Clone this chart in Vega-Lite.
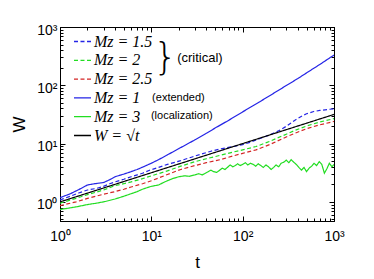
{
  "$schema": "https://vega.github.io/schema/vega-lite/v6.json",
  "width": 274,
  "height": 194,
  "autosize": {"type": "none"},
  "padding": {"left": 60, "top": 27, "right": 40, "bottom": 58},
  "background": "white",
  "config": {
    "view": {"stroke": "black", "strokeWidth": 1},
    "font": "Liberation Sans",
    "axis": {"grid": false, "domainColor": "black", "tickColor": "black", "labelColor": "black", "titleColor": "black", "labelFont": "Liberation Sans", "labelFontSize": 14, "titleFont": "Liberation Sans", "titleFontWeight": "normal", "titleFontSize": 17, "tickCount": 10, "labelOverlap": false, "labelFlush": false}
  },
  "datasets": {
    "lines": [
      {"s": "Mz = 1.5", "t": 1, "W": 1.08}, {"s": "Mz = 1.5", "t": 1.3, "W": 1.25}, {"s": "Mz = 1.5", "t": 1.6, "W": 1.42}, {"s": "Mz = 1.5", "t": 2, "W": 1.6}, {"s": "Mz = 1.5", "t": 2.5, "W": 1.7}, {"s": "Mz = 1.5", "t": 3, "W": 1.85}, {"s": "Mz = 1.5", "t": 3.5, "W": 2.05}, {"s": "Mz = 1.5", "t": 4, "W": 2.2}, {"s": "Mz = 1.5", "t": 5, "W": 2.45}, {"s": "Mz = 1.5", "t": 6, "W": 2.7}, {"s": "Mz = 1.5", "t": 7, "W": 2.9}, {"s": "Mz = 1.5", "t": 8, "W": 3.1}, {"s": "Mz = 1.5", "t": 9.4, "W": 3.45}, {"s": "Mz = 1.5", "t": 12, "W": 3.9}, {"s": "Mz = 1.5", "t": 15, "W": 4.4}, {"s": "Mz = 1.5", "t": 21, "W": 5.1}, {"s": "Mz = 1.5", "t": 28, "W": 5.9}, {"s": "Mz = 1.5", "t": 35, "W": 6.6}, {"s": "Mz = 1.5", "t": 45, "W": 7.4}, {"s": "Mz = 1.5", "t": 57, "W": 8.1}, {"s": "Mz = 1.5", "t": 70, "W": 8.6}, {"s": "Mz = 1.5", "t": 85, "W": 9.1}, {"s": "Mz = 1.5", "t": 100, "W": 9.6}, {"s": "Mz = 1.5", "t": 120, "W": 10.5}, {"s": "Mz = 1.5", "t": 150, "W": 12.0}, {"s": "Mz = 1.5", "t": 200, "W": 14.2}, {"s": "Mz = 1.5", "t": 250, "W": 16.7}, {"s": "Mz = 1.5", "t": 300, "W": 19.8}, {"s": "Mz = 1.5", "t": 350, "W": 23.5}, {"s": "Mz = 1.5", "t": 400, "W": 27}, {"s": "Mz = 1.5", "t": 450, "W": 30}, {"s": "Mz = 1.5", "t": 500, "W": 32.5}, {"s": "Mz = 1.5", "t": 600, "W": 35.5}, {"s": "Mz = 1.5", "t": 700, "W": 37}, {"s": "Mz = 1.5", "t": 800, "W": 38}, {"s": "Mz = 1.5", "t": 900, "W": 38.8}, {"s": "Mz = 1.5", "t": 1000, "W": 39.5},
      {"s": "Mz = 2", "t": 1, "W": 0.95}, {"s": "Mz = 2", "t": 1.5, "W": 1.15}, {"s": "Mz = 2", "t": 2, "W": 1.33}, {"s": "Mz = 2", "t": 3, "W": 1.6}, {"s": "Mz = 2", "t": 4, "W": 1.9}, {"s": "Mz = 2", "t": 5, "W": 2.05}, {"s": "Mz = 2", "t": 6, "W": 2.2}, {"s": "Mz = 2", "t": 8, "W": 2.5}, {"s": "Mz = 2", "t": 10, "W": 2.8}, {"s": "Mz = 2", "t": 15, "W": 3.4}, {"s": "Mz = 2", "t": 21, "W": 4.1}, {"s": "Mz = 2", "t": 30, "W": 4.9}, {"s": "Mz = 2", "t": 40, "W": 5.5}, {"s": "Mz = 2", "t": 57, "W": 6.3}, {"s": "Mz = 2", "t": 80, "W": 7.2}, {"s": "Mz = 2", "t": 100, "W": 7.8}, {"s": "Mz = 2", "t": 140, "W": 8.9}, {"s": "Mz = 2", "t": 200, "W": 11}, {"s": "Mz = 2", "t": 300, "W": 14.5}, {"s": "Mz = 2", "t": 380, "W": 17}, {"s": "Mz = 2", "t": 500, "W": 20}, {"s": "Mz = 2", "t": 700, "W": 23.5}, {"s": "Mz = 2", "t": 1000, "W": 26.8},
      {"s": "Mz = 2.5", "t": 1, "W": 0.86}, {"s": "Mz = 2.5", "t": 1.5, "W": 1.0}, {"s": "Mz = 2.5", "t": 2, "W": 1.15}, {"s": "Mz = 2.5", "t": 3, "W": 1.35}, {"s": "Mz = 2.5", "t": 4, "W": 1.5}, {"s": "Mz = 2.5", "t": 5, "W": 1.65}, {"s": "Mz = 2.5", "t": 6, "W": 1.8}, {"s": "Mz = 2.5", "t": 8, "W": 2.05}, {"s": "Mz = 2.5", "t": 10, "W": 2.3}, {"s": "Mz = 2.5", "t": 15, "W": 2.95}, {"s": "Mz = 2.5", "t": 21, "W": 3.6}, {"s": "Mz = 2.5", "t": 30, "W": 4.2}, {"s": "Mz = 2.5", "t": 40, "W": 4.7}, {"s": "Mz = 2.5", "t": 57, "W": 5.3}, {"s": "Mz = 2.5", "t": 80, "W": 6.2}, {"s": "Mz = 2.5", "t": 100, "W": 6.8}, {"s": "Mz = 2.5", "t": 140, "W": 7.8}, {"s": "Mz = 2.5", "t": 200, "W": 9.7}, {"s": "Mz = 2.5", "t": 300, "W": 13}, {"s": "Mz = 2.5", "t": 380, "W": 15.2}, {"s": "Mz = 2.5", "t": 500, "W": 18}, {"s": "Mz = 2.5", "t": 700, "W": 21}, {"s": "Mz = 2.5", "t": 1000, "W": 24},
      {"s": "Mz = 1", "t": 1, "W": 1.18}, {"s": "Mz = 1", "t": 1.3, "W": 1.38}, {"s": "Mz = 1", "t": 1.6, "W": 1.62}, {"s": "Mz = 1", "t": 2, "W": 1.95}, {"s": "Mz = 1", "t": 2.4, "W": 2.05}, {"s": "Mz = 1", "t": 3, "W": 2.15}, {"s": "Mz = 1", "t": 3.5, "W": 2.4}, {"s": "Mz = 1", "t": 4, "W": 2.7}, {"s": "Mz = 1", "t": 5, "W": 3.0}, {"s": "Mz = 1", "t": 6, "W": 3.3}, {"s": "Mz = 1", "t": 7, "W": 3.6}, {"s": "Mz = 1", "t": 8.5, "W": 4.1}, {"s": "Mz = 1", "t": 10, "W": 4.6}, {"s": "Mz = 1", "t": 12, "W": 5.3}, {"s": "Mz = 1", "t": 15, "W": 6.4}, {"s": "Mz = 1", "t": 20, "W": 8.2}, {"s": "Mz = 1", "t": 25, "W": 9.9}, {"s": "Mz = 1", "t": 30, "W": 11.6}, {"s": "Mz = 1", "t": 40, "W": 15}, {"s": "Mz = 1", "t": 50, "W": 18.5}, {"s": "Mz = 1", "t": 70, "W": 25}, {"s": "Mz = 1", "t": 100, "W": 35}, {"s": "Mz = 1", "t": 150, "W": 51}, {"s": "Mz = 1", "t": 200, "W": 67}, {"s": "Mz = 1", "t": 300, "W": 99}, {"s": "Mz = 1", "t": 400, "W": 130}, {"s": "Mz = 1", "t": 500, "W": 163}, {"s": "Mz = 1", "t": 700, "W": 228}, {"s": "Mz = 1", "t": 1000, "W": 330},
      {"s": "Mz = 3", "t": 1, "W": 0.74}, {"s": "Mz = 3", "t": 1.5, "W": 0.82}, {"s": "Mz = 3", "t": 2, "W": 0.9}, {"s": "Mz = 3", "t": 2.5, "W": 0.95}, {"s": "Mz = 3", "t": 3, "W": 1.0}, {"s": "Mz = 3", "t": 4, "W": 1.12}, {"s": "Mz = 3", "t": 5, "W": 1.25}, {"s": "Mz = 3", "t": 6, "W": 1.38}, {"s": "Mz = 3", "t": 7, "W": 1.5}, {"s": "Mz = 3", "t": 8, "W": 1.65}, {"s": "Mz = 3", "t": 10, "W": 1.85}, {"s": "Mz = 3", "t": 12, "W": 1.95}, {"s": "Mz = 3", "t": 14, "W": 2.2}, {"s": "Mz = 3", "t": 17, "W": 2.5}, {"s": "Mz = 3", "t": 20, "W": 2.7}, {"s": "Mz = 3", "t": 23, "W": 2.8}, {"s": "Mz = 3", "t": 26, "W": 2.75}, {"s": "Mz = 3", "t": 30, "W": 2.9}, {"s": "Mz = 3", "t": 33, "W": 3.05}, {"s": "Mz = 3", "t": 36, "W": 2.9}, {"s": "Mz = 3", "t": 39, "W": 3.1}, {"s": "Mz = 3", "t": 42, "W": 3.3}, {"s": "Mz = 3", "t": 45, "W": 3.5}, {"s": "Mz = 3", "t": 48, "W": 3.3}, {"s": "Mz = 3", "t": 52, "W": 3.2}, {"s": "Mz = 3", "t": 56, "W": 3.5}, {"s": "Mz = 3", "t": 60, "W": 3.8}, {"s": "Mz = 3", "t": 64, "W": 3.6}, {"s": "Mz = 3", "t": 68, "W": 3.9}, {"s": "Mz = 3", "t": 73, "W": 4.3}, {"s": "Mz = 3", "t": 78, "W": 4.0}, {"s": "Mz = 3", "t": 83, "W": 4.2}, {"s": "Mz = 3", "t": 88, "W": 4.5}, {"s": "Mz = 3", "t": 94, "W": 4.2}, {"s": "Mz = 3", "t": 100, "W": 4.4}, {"s": "Mz = 3", "t": 107, "W": 4.7}, {"s": "Mz = 3", "t": 114, "W": 4.3}, {"s": "Mz = 3", "t": 122, "W": 4.6}, {"s": "Mz = 3", "t": 130, "W": 4.4}, {"s": "Mz = 3", "t": 139, "W": 4.1}, {"s": "Mz = 3", "t": 148, "W": 4.5}, {"s": "Mz = 3", "t": 158, "W": 4.2}, {"s": "Mz = 3", "t": 168, "W": 3.9}, {"s": "Mz = 3", "t": 180, "W": 4.3}, {"s": "Mz = 3", "t": 192, "W": 4.0}, {"s": "Mz = 3", "t": 205, "W": 3.6}, {"s": "Mz = 3", "t": 218, "W": 3.9}, {"s": "Mz = 3", "t": 232, "W": 4.3}, {"s": "Mz = 3", "t": 248, "W": 4.0}, {"s": "Mz = 3", "t": 264, "W": 4.6}, {"s": "Mz = 3", "t": 282, "W": 4.8}, {"s": "Mz = 3", "t": 300, "W": 5.2}, {"s": "Mz = 3", "t": 320, "W": 4.7}, {"s": "Mz = 3", "t": 340, "W": 5.3}, {"s": "Mz = 3", "t": 362, "W": 4.8}, {"s": "Mz = 3", "t": 386, "W": 4.4}, {"s": "Mz = 3", "t": 412, "W": 3.9}, {"s": "Mz = 3", "t": 440, "W": 3.5}, {"s": "Mz = 3", "t": 470, "W": 3.9}, {"s": "Mz = 3", "t": 500, "W": 3.3}, {"s": "Mz = 3", "t": 535, "W": 3.8}, {"s": "Mz = 3", "t": 570, "W": 4.1}, {"s": "Mz = 3", "t": 605, "W": 4.6}, {"s": "Mz = 3", "t": 645, "W": 4.2}, {"s": "Mz = 3", "t": 690, "W": 4.9}, {"s": "Mz = 3", "t": 735, "W": 4.4}, {"s": "Mz = 3", "t": 785, "W": 3.1}, {"s": "Mz = 3", "t": 835, "W": 3.7}, {"s": "Mz = 3", "t": 890, "W": 4.6}, {"s": "Mz = 3", "t": 950, "W": 4.0}, {"s": "Mz = 3", "t": 1000, "W": 4.4},
      {"s": "W = √t", "t": 1, "W": 1}, {"s": "W = √t", "t": 3, "W": 1.732}, {"s": "W = √t", "t": 10, "W": 3.162}, {"s": "W = √t", "t": 30, "W": 5.477}, {"s": "W = √t", "t": 100, "W": 10}, {"s": "W = √t", "t": 300, "W": 17.32}, {"s": "W = √t", "t": 1000, "W": 31.62}
    ],
    "notes": [
      {"kind": "brace", "txt": "}", "t": 14.2, "W": 289},
      {"kind": "big", "txt": "(critical)", "t": 19.2, "W": 289},
      {"kind": "small", "txt": "(extended)", "t": 10.2, "W": 61},
      {"kind": "small", "txt": "(localization)", "t": 9.9, "W": 29.6}
    ]
  },
  "resolve": {"axis": {"x": "independent", "y": "independent"}},
  "layer": [
    {
      "data": {"name": "lines"},
      "mark": {"type": "line", "strokeWidth": 1.2, "clip": true},
      "encoding": {
        "x": {"field": "t", "type": "quantitative", "scale": {"type": "log", "domain": [1, 1000], "nice": false},
          "axis": {"orient": "bottom", "title": "t", "titlePadding": 9, "labelBaseline": "top", "labelPadding": 13,
            "labelExpr": "datum.value == 1 ? '10⁰' : datum.value == 10 ? '10¹' : datum.value == 100 ? '10²' : datum.value == 1000 ? '10³' : ''",
            "tickSize": {"condition": {"test": "datum.value == 1 || datum.value == 10 || datum.value == 100 || datum.value == 1000", "value": -5}, "value": -3}}},
        "y": {"field": "W", "type": "quantitative", "scale": {"type": "log", "domain": [0.47, 1000], "nice": false},
          "axis": {"orient": "left", "title": "W", "titlePadding": 8, "labelPadding": 8, "labelOffset": 3,
            "labelExpr": "datum.value == 1 ? '10⁰' : datum.value == 10 ? '10¹' : datum.value == 100 ? '10²' : datum.value == 1000 ? '10³' : ''",
            "tickSize": {"condition": {"test": "datum.value == 1 || datum.value == 10 || datum.value == 100 || datum.value == 1000", "value": -5}, "value": -3}}},
        "color": {"field": "s", "type": "nominal",
          "scale": {"domain": ["Mz = 1.5", "Mz = 2", "Mz = 2.5", "Mz = 1", "Mz = 3", "W = √t"], "range": ["#2424e6", "#22dd22", "#d42424", "#2424e6", "#22dd22", "#000000"]},
          "legend": {"orient": "none", "legendX": 13, "legendY": 5, "title": null, "padding": 0, "labelFont": "Liberation Serif", "labelFontSize": 16, "labelFontStyle": "italic", "labelColor": "black", "symbolType": "stroke", "symbolSize": 289, "symbolStrokeWidth": 1.3, "rowPadding": 0.8, "labelOffset": 2}},
        "strokeDash": {"field": "s", "type": "nominal",
          "scale": {"domain": ["Mz = 1.5", "Mz = 2", "Mz = 2.5", "Mz = 1", "Mz = 3", "W = √t"], "range": [[4, 2.5], [4, 2.5], [4, 2.5], [1, 0], [1, 0], [1, 0]]},
          "legend": {"orient": "none", "legendX": 13, "legendY": 5, "title": null, "padding": 0, "labelFont": "Liberation Serif", "labelFontSize": 16, "labelFontStyle": "italic", "labelColor": "black", "symbolType": "stroke", "symbolSize": 289, "symbolStrokeWidth": 1.3, "rowPadding": 0.8, "labelOffset": 2}}
      }
    },
    {
      "data": {"name": "notes"},
      "transform": [{"filter": "datum.kind == 'brace'"}],
      "mark": {"type": "text", "font": "DejaVu Sans", "fontWeight": 200, "fontSize": 38, "align": "center", "baseline": "middle", "color": "black"},
      "encoding": {
        "x": {"field": "t", "type": "quantitative",
          "axis": {"orient": "top", "title": null, "labels": false,
            "tickSize": {"condition": {"test": "datum.value == 1 || datum.value == 10 || datum.value == 100 || datum.value == 1000", "value": -5}, "value": -3}}},
        "y": {"field": "W", "type": "quantitative",
          "axis": {"orient": "right", "title": null, "labels": false,
            "tickSize": {"condition": {"test": "datum.value == 1 || datum.value == 10 || datum.value == 100 || datum.value == 1000", "value": -5}, "value": -3}}},
        "text": {"field": "txt"}
      }
    },
    {
      "data": {"name": "notes"},
      "transform": [{"filter": "datum.kind == 'big'"}],
      "mark": {"type": "text", "font": "Liberation Sans", "fontSize": 13, "align": "left", "baseline": "middle", "color": "black"},
      "encoding": {
        "x": {"field": "t", "type": "quantitative", "axis": null},
        "y": {"field": "W", "type": "quantitative", "axis": null},
        "text": {"field": "txt"}
      }
    },
    {
      "data": {"name": "notes"},
      "transform": [{"filter": "datum.kind == 'small'"}],
      "mark": {"type": "text", "font": "Liberation Sans", "fontSize": 11, "align": "left", "baseline": "middle", "color": "black"},
      "encoding": {
        "x": {"field": "t", "type": "quantitative", "axis": null},
        "y": {"field": "W", "type": "quantitative", "axis": null},
        "text": {"field": "txt"}
      }
    }
  ]
}
